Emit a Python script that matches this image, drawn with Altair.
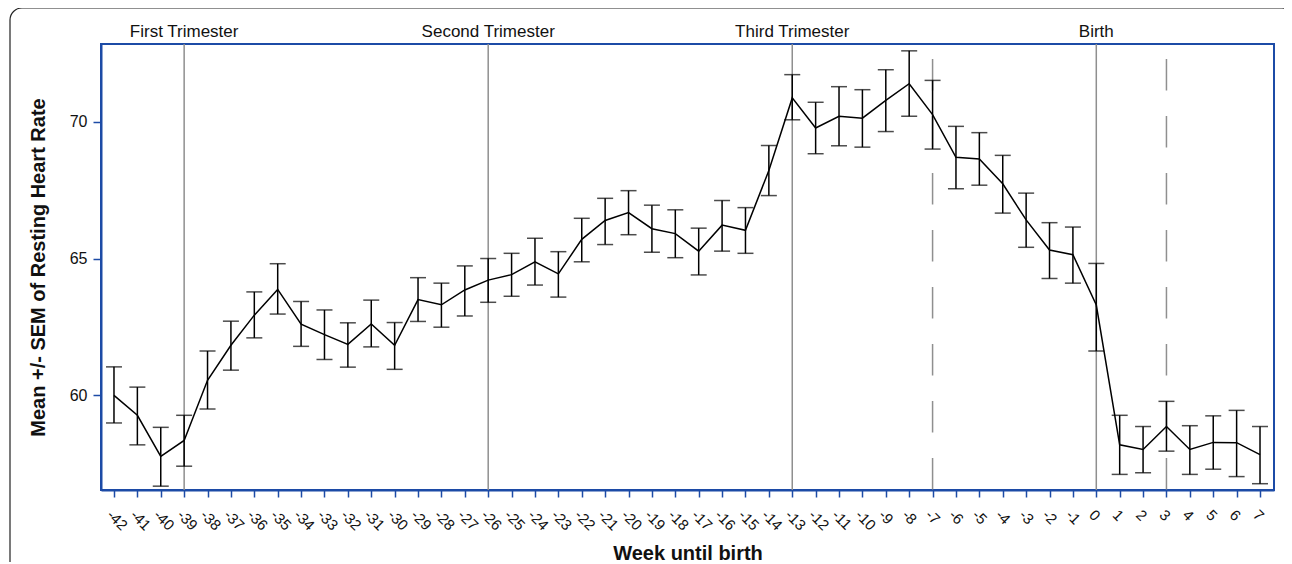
import altair as alt
import pandas as pd

# ---- data ----
weeks = list(range(-42, 8))
means = [60.00, 59.27, 57.77, 58.35, 60.55, 61.83, 62.93, 63.87, 62.60, 62.22,
         61.86, 62.61, 61.83, 63.50, 63.31, 63.85, 64.21, 64.41, 64.88, 64.44,
         65.70, 66.39, 66.68, 66.09, 65.91, 65.27, 66.22, 66.03, 68.22, 70.87,
         69.77, 70.20, 70.13, 70.78, 71.39, 70.26, 68.70, 68.64, 67.73, 66.41,
         65.31, 65.14, 63.30, 58.19, 58.02, 58.86, 58.02, 58.28, 58.27, 57.83]
upper = [61.04, 60.30, 58.83, 59.27, 61.62, 62.71, 63.78, 64.81, 63.43, 63.12,
         62.65, 63.48, 62.66, 64.30, 64.10, 64.73, 65.00, 65.19, 65.74, 65.25,
         66.47, 67.20, 67.48, 66.95, 66.78, 66.11, 67.12, 66.86, 69.13, 71.72,
         70.71, 71.28, 71.17, 71.90, 72.59, 71.51, 69.83, 69.60, 68.77, 67.39,
         66.31, 66.15, 64.82, 59.27, 58.86, 59.78, 58.89, 59.25, 59.45, 58.86]
lower = [58.99, 58.19, 56.68, 57.41, 59.50, 60.92, 62.10, 62.97, 61.79, 61.31,
         61.03, 61.77, 60.95, 62.70, 62.49, 62.90, 63.40, 63.62, 64.03, 63.59,
         64.88, 65.51, 65.87, 65.23, 65.03, 64.40, 65.27, 65.19, 67.30, 70.07,
         68.83, 69.12, 69.07, 69.64, 70.20, 69.00, 67.55, 67.68, 66.66, 65.41,
         64.27, 64.10, 61.62, 57.11, 57.17, 57.96, 57.11, 57.30, 57.03, 56.77]

phase_labels = ["First Trimester", "Second Trimester", "Third Trimester", "Birth"]
phase_weeks = [-39, -26, -13, 0]
dashed_weeks = [-7, 3]
y_ticks = [60, 65, 70]

# ---- layout / style ----
W, H = 1173, 446
BLUE = "#1c4ba6"
GRAY = "#8f8f8f"
FONT = "Liberation Sans"

df = pd.DataFrame({"week": weeks, "mean": means, "upper": upper, "lower": lower})
phases = pd.DataFrame({"week": phase_weeks, "label": phase_labels})
dashed = pd.DataFrame({"week": dashed_weeks})
frame = pd.DataFrame({"k": [0]})

xscale = alt.Scale(domain=[-42.555, 7.598], nice=False, zero=False)
yscale = alt.Scale(domain=[56.54, 72.84], nice=False, zero=False)

X = alt.X("week:Q", scale=xscale, title="Week until birth",
          axis=alt.Axis(values=weeks, labelAngle=45, labelAlign="left",
                        labelBaseline="top", labelPadding=10, labelOverlap=False,
                        labelExpr="'' + datum.value", labelFontSize=15,
                        titleY=69, titleBaseline="alphabetic", tickSize=7))
Y_AXIS = alt.Axis(values=y_ticks, labelFontSize=16, labelPadding=6, tickSize=8,
                  titleX=-63, titleBaseline="middle")

solid = alt.Chart(phases).mark_rule(color=GRAY, strokeWidth=1.5).encode(
    x=X, y=alt.value(0), y2=alt.value(H))

dash = alt.Chart(dashed).mark_rule(color=GRAY, strokeWidth=1.5,
                                   strokeDash=[31.5, 25.5],
                                   strokeDashOffset=42).encode(
    x=X, y=alt.value(0), y2=alt.value(H))

labels = alt.Chart(phases).mark_text(font=FONT, fontSize=17, color="#111111",
                                     baseline="alphabetic", align="center").encode(
    x=X, y=alt.value(-7), text="label:N")

bars = alt.Chart(df).mark_rule(color="black", strokeWidth=1.5).encode(
    x=X,
    y=alt.Y("lower:Q", scale=yscale, title="Mean +/- SEM of Resting Heart Rate",
            axis=Y_AXIS),
    y2="upper:Q")

cap_hi = alt.Chart(df).mark_tick(color="black", orient="horizontal", size=16,
                                 thickness=1.5).encode(
    x=X, y=alt.Y("upper:Q", scale=yscale))
cap_lo = alt.Chart(df).mark_tick(color="black", orient="horizontal", size=16,
                                 thickness=1.5).encode(
    x=X, y=alt.Y("lower:Q", scale=yscale))

line = alt.Chart(df).mark_line(color="black", strokeWidth=1.5).encode(
    x=X, y=alt.Y("mean:Q", scale=yscale))

outer = alt.Chart(frame).mark_rect(fillOpacity=0, stroke="#222222", strokeWidth=1.2,
                                   cornerRadius=12).encode(
    x=alt.value(-91), x2=alt.value(W + 20), y=alt.value(-36), y2=alt.value(H + 200))

chart = alt.layer(outer, solid, dash, labels, bars, cap_hi, cap_lo, line).properties(
    width=W, height=H,
    padding={"left": 93, "top": 36, "right": 10, "bottom": 72},
    autosize=alt.AutoSizeParams(type="none"),
).configure_view(
    stroke=BLUE, strokeWidth=2
).configure_axis(
    domainColor=BLUE, domainWidth=2, tickColor=BLUE, tickWidth=1.5,
    labelFont=FONT, labelColor="#111111", titleFont=FONT, titleFontSize=20,
    titleFontWeight="bold", titleColor="#111111", grid=False
)

chart.save("out.html", embed_options={"renderer": "svg", "actions": False})
